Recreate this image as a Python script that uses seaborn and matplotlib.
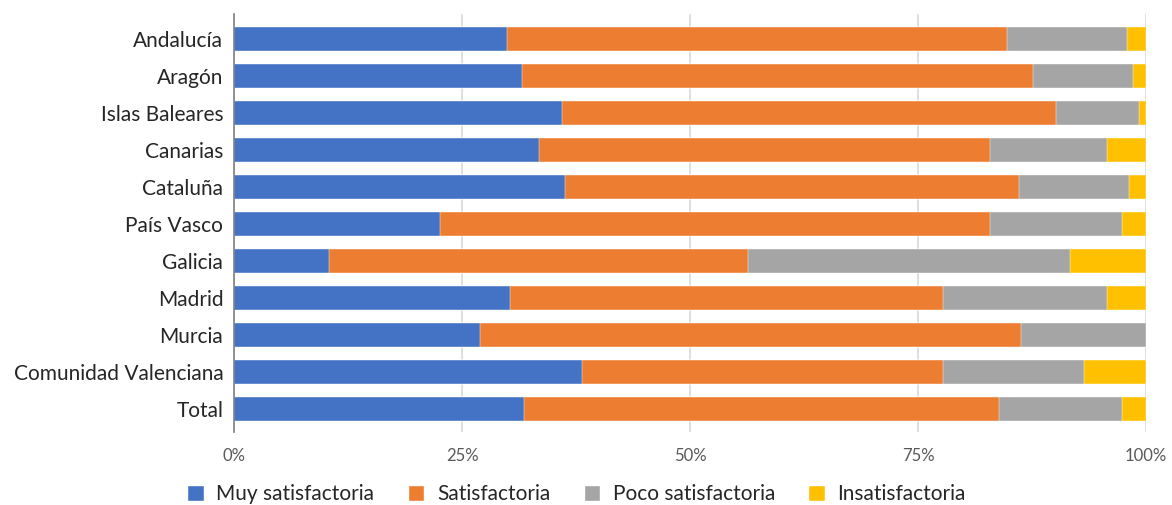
import numpy as np
import pandas as pd
import seaborn as sns
import matplotlib.pyplot as plt
from matplotlib.patches import Patch
from matplotlib.ticker import PercentFormatter

regiones = ['Andalucía', 'Aragón', 'Islas Baleares', 'Canarias', 'Cataluña',
            'País Vasco', 'Galicia', 'Madrid', 'Murcia',
            'Comunidad Valenciana', 'Total']
muy_satisfactoria = [29.9, 31.5, 35.9, 33.4, 36.3, 22.5, 10.4, 30.2, 26.9, 38.1, 31.8]
satisfactoria = [54.8, 56.1, 54.2, 49.5, 49.8, 60.4, 45.9, 47.5, 59.4, 39.6, 52.0]
poco_satisfactoria = [13.2, 10.9, 9.1, 12.8, 12.0, 14.4, 35.3, 18.0, 13.7, 15.5, 13.5]
insatisfactoria = [2.1, 1.5, 0.8, 4.3, 1.9, 2.7, 8.4, 4.3, 0.0, 6.8, 2.7]

series = ['Muy satisfactoria', 'Satisfactoria', 'Poco satisfactoria', 'Insatisfactoria']
colores = ['#4472C4', '#ED7D31', '#A5A5A5', '#FFC000']

df = pd.DataFrame({
    'region': regiones,
    'Muy satisfactoria': muy_satisfactoria,
    'Satisfactoria': satisfactoria,
    'Poco satisfactoria': poco_satisfactoria,
    'Insatisfactoria': insatisfactoria,
})
# acumulados para apilar
acum = df[series].cumsum(axis=1)
acum['region'] = df['region']

sns.set_theme(style='white')
plt.rcParams['font.family'] = ['Lato', 'DejaVu Sans']

fig, ax = plt.subplots(figsize=(11.72, 5.05), dpi=100)
fig.subplots_adjust(left=0.2, right=0.978, top=0.972, bottom=0.145)

# dibujar de mayor a menor acumulado
for s, c in reversed(list(zip(series, colores))):
    sns.barplot(data=acum, x=s, y='region', color=c, width=0.65,
                orient='h', ax=ax, saturation=1, edgecolor='white', linewidth=0.3)

ax.set_xlim(0, 100)
ax.set_ylim(10.61, -0.684)
ax.set_xticks([0, 25, 50, 75, 100])
ax.xaxis.set_major_formatter(PercentFormatter(decimals=0))
ax.grid(axis='x', color='#D9D9D9', linewidth=1.2)
ax.set_axisbelow(True)
ax.set_xlabel('')
ax.set_ylabel('')
for side in ['top', 'right', 'bottom']:
    ax.spines[side].set_visible(False)
ax.spines['left'].set_color('#808080')
ax.spines['left'].set_linewidth(1.2)
ax.tick_params(axis='y', labelsize=15, colors='#262626', length=0, pad=8)
ax.tick_params(axis='x', labelsize=12, colors='#595959', length=0, pad=12)

handles = [Patch(facecolor=c, label=s) for s, c in zip(series, colores)]
fig.legend(handles=handles, loc='lower center', ncol=4, frameon=False,
           bbox_to_anchor=(0.492, -0.035), fontsize=15, handlelength=0.8,
           handleheight=0.8, columnspacing=1.6, handletextpad=0.6)

plt.savefig('out.png', dpi=100)
